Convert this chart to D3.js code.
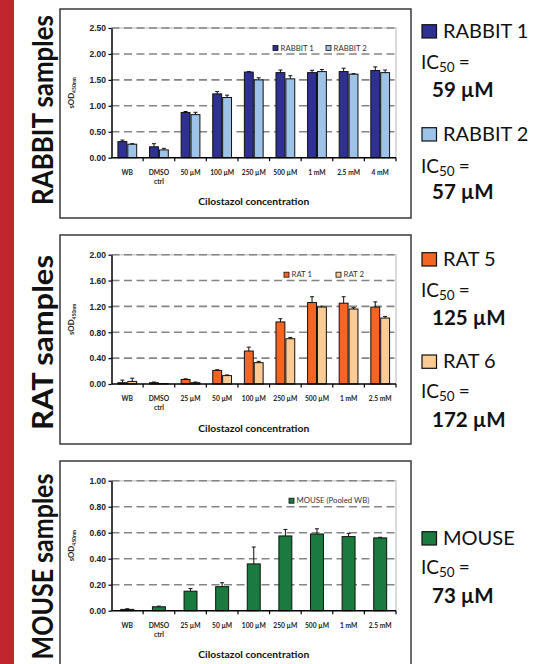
<!DOCTYPE html>
<html><head><meta charset="utf-8">
<script src="https://cdn.jsdelivr.net/npm/d3@7"></script>
<style>body{margin:0;background:#fff;} svg{display:block;font-family:Lato,'Open Sans',sans-serif;}</style>
</head><body><svg id="c" width="546" height="664"></svg>
<script>
// ---------- DATA ----------
const rabbitCategories = ["WB","DMSO|ctrl","50 µM","100 µM","250 µM","500 µM","1 mM","2.5 mM","4 mM"];
const rabbitSeries = ["RABBIT 1","RABBIT 2"];
const rabbit1 = [0.31,0.21,0.87,1.23,1.65,1.64,1.64,1.66,1.68];
const rabbit1Err = [0.03,0.06,0.02,0.045,0.01,0.05,0.045,0.065,0.07];
const rabbit2 = [0.26,0.15,0.83,1.16,1.50,1.52,1.66,1.61,1.64];
const rabbit2Err = [0.01,0.03,0.045,0.045,0.04,0.06,0.04,0.01,0.05];
const rabbitTicks = [0,0.5,1.0,1.5,2.0,2.5];

const ratCategories = ["WB","DMSO|ctrl","25 µM","50 µM","100 µM","250 µM","500 µM","1 mM","2.5 mM"];
const ratSeries = ["RAT 1","RAT 2"];
const rat1 = [0.02,0.02,0.07,0.21,0.51,0.96,1.26,1.25,1.19];
const rat1Err = [0.04,0.01,0.01,0.01,0.06,0.05,0.09,0.10,0.08];
const rat2 = [0.04,0.005,0.02,0.13,0.33,0.70,1.19,1.16,1.02];
const rat2Err = [0.05,0,0.01,0.01,0.02,0.02,0.015,0.02,0.025];
const ratTicks = [0,0.4,0.8,1.2,1.6,2.0];

const mouseCategories = ["WB","DMSO|ctrl","25 µM","50 µM","100 µM","250 µM","500 µM","1 mM","2.5 mM"];
const mouseSeries = ["MOUSE (Pooled WB)"];
const mouse = [0.01,0.03,0.15,0.185,0.36,0.575,0.59,0.57,0.56];
const mouseErr = [0.005,0.005,0.02,0.03,0.13,0.05,0.04,0.025,0.005];
const mouseTicks = [0,0.2,0.4,0.6,0.8,1.0];

const sideLabels = ["RABBIT samples","RAT samples","MOUSE samples"];
const icNames = ["RABBIT 1","RABBIT 2","RAT 5","RAT 6","MOUSE"];
const icValues = ["59 µM","57 µM","125 µM","172 µM","73 µM"];

// ---------- STYLE / LAYOUT ----------
const C = {
  rabbit:["#2e3192","#9dc3e8"],
  rat:["#f26522","#fbcb95"],
  mouse:["#1b7a3e"]
};
const svg = d3.select("#c");

svg.append("rect").attr("x",0).attr("y",0).attr("width",14).attr("height",664).attr("fill","#c1262d");

const panels = [
  {cats:rabbitCategories, series:rabbitSeries, vals:[rabbit1,rabbit2], errs:[rabbit1Err,rabbit2Err], ticks:rabbitTicks, colors:C.rabbit, zero:157.7, top:28, box:[9,218], legX:[273,326], label:sideLabels[0], labelY:110, labelLen:190},
  {cats:ratCategories, series:ratSeries, vals:[rat1,rat2], errs:[rat1Err,rat2Err], ticks:ratTicks, colors:C.rat, zero:384, top:254.7, box:[235,444], legX:[284,336], label:sideLabels[1], labelY:342.5, labelLen:175},
  {cats:mouseCategories, series:mouseSeries, vals:[mouse], errs:[mouseErr], ticks:mouseTicks, colors:C.mouse, zero:610.7, top:480.7, box:[461,672], legX:[289], label:sideLabels[2], labelY:566.5, labelLen:186}
];

const X0 = 111.5, X1 = 396;

panels.forEach(p => {
  const g = svg.append("g");
  g.append("rect").attr("x",60).attr("y",p.box[0]).attr("width",351).attr("height",p.box[1]-p.box[0])
    .attr("fill","#fff").attr("stroke","#3a3a3a").attr("stroke-width",1.5);

  // side label (scaled along its length to match the reference width)
  const sl = svg.append("text").attr("text-anchor","middle").attr("font-size",29).attr("font-weight",700)
    .attr("fill","#111").text(p.label);
  const natural = sl.node().getComputedTextLength() || p.labelLen;
  sl.attr("transform",`translate(53,${p.labelY}) rotate(-90) scale(${p.labelLen/natural},1)`);

  const ymax = p.ticks[p.ticks.length-1];
  const y = d3.scaleLinear().domain([0,ymax]).range([p.zero,p.top]);
  const x = d3.scaleBand().domain(p.cats).range([X0,X1]).padding(0);
  const n = p.series.length;
  const xs = d3.scaleBand().domain(p.series).range([0,x.bandwidth()])
    .paddingInner(n>1?0.1:0).paddingOuter(n>1?0.65:0.72);

  // plot border (light)
  g.append("path").attr("d",`M${X0},${p.top}H${X1}V${p.zero}`).attr("fill","none").attr("stroke","#cfcfcf").attr("stroke-width",1.5);
  // gridlines
  g.selectAll(".grid").data(p.ticks.filter(t=>t>0)).join("line")
    .attr("x1",X0).attr("x2",X1).attr("y1",d=>y(d)).attr("y2",d=>y(d))
    .attr("stroke","#858585").attr("stroke-width",1.6).attr("stroke-dasharray","8,4.5");

  // bars
  p.series.forEach((s,si) => {
    const data = p.cats.map((c,i)=>({c, v:p.vals[si][i], e:p.errs[si][i]}));
    const bg = g.append("g");
    bg.selectAll("rect").data(data).join("rect")
      .attr("x",d=>x(d.c)+xs(s)).attr("width",xs.bandwidth())
      .attr("y",d=>y(d.v)).attr("height",d=>Math.max(0,p.zero-y(d.v)))
      .attr("fill",p.colors[si]).attr("stroke","#111").attr("stroke-width",1);
    const cx = d=>x(d.c)+xs(s)+xs.bandwidth()/2;
    bg.selectAll(".eb").data(data.filter(d=>d.e>0)).join("path")
      .attr("d",d=>`M${cx(d)},${y(d.v)}V${y(d.v+d.e)}M${cx(d)-2},${y(d.v+d.e)}H${cx(d)+2}`)
      .attr("stroke","#111").attr("stroke-width",1).attr("fill","none");
  });

  // y axis
  const ya = g.append("g").attr("transform",`translate(${X0},0)`)
    .call(d3.axisLeft(y).tickValues(p.ticks).tickFormat(d3.format(".2f")).tickSize(3).tickSizeOuter(0));
  ya.select(".domain").attr("stroke","#000").attr("stroke-width",1.5);
  ya.selectAll(".tick line").attr("stroke","#000").attr("stroke-width",1.2);
  ya.selectAll("text").attr("font-size",8.5).attr("font-weight",700).attr("fill","#222").attr("x",-5.5);

  // x axis
  g.append("line").attr("x1",X0).attr("x2",X1).attr("y1",p.zero).attr("y2",p.zero).attr("stroke","#000").attr("stroke-width",1.5);
  g.selectAll(".xt").data(p.cats).join("line")
    .attr("x1",d=>x(d)+x.bandwidth()).attr("x2",d=>x(d)+x.bandwidth())
    .attr("y1",p.zero).attr("y2",p.zero+3.5).attr("stroke","#000").attr("stroke-width",1.2);
  g.selectAll(".xl").data(p.cats).join("text")
    .attr("x",d=>x(d)+x.bandwidth()/2).attr("y",p.zero+17.3)
    .attr("text-anchor","middle").attr("font-size",6.7).attr("font-weight",700).attr("fill","#222")
    .each(function(d){
      const parts = d.split("|");
      d3.select(this).selectAll("tspan").data(parts).join("tspan")
        .attr("x",x(d)+x.bandwidth()/2).attr("dy",(t,i)=>i?9:0).text(t=>t);
    });
  g.append("text").attr("x",(X0+X1)/2).attr("y",p.zero+47.5).attr("text-anchor","middle")
    .attr("font-size",10.3).attr("font-weight",700).attr("fill","#111").text("Cilostazol concentration");

  // y title
  const yt = g.append("text").attr("transform",`translate(74,${(p.top+p.zero)/2}) rotate(-90)`)
    .attr("text-anchor","middle").attr("font-size",7.8).attr("font-weight",700).attr("fill","#222");
  yt.append("tspan").text("sOD");
  yt.append("tspan").attr("font-size",5).attr("dy",1.5).text("450nm");

  // in-plot legend
  p.series.forEach((s,si)=>{
    const lx = p.legX[si], ly = p.top+20;
    g.append("rect").attr("x",lx).attr("y",ly-2.5).attr("width",5).attr("height",5)
      .attr("fill",p.colors[si]).attr("stroke","#111").attr("stroke-width",0.8);
    g.append("text").attr("x",lx+7.5).attr("y",ly+2.6).attr("font-size",7.8).attr("fill","#333").text(s);
  });
});

// ---------- right-side IC50 legends ----------
const icColors = [C.rabbit[0],C.rabbit[1],C.rat[0],C.rat[1],C.mouse[0]];
const icBase = [38,141,266,368.3,545];
const icGap = [31,31.5,31,30,29];
const valGap = [59,58,59,58.5,58];
icNames.forEach((nm,i)=>{
  const b = icBase[i];
  svg.append("rect").attr("x",422).attr("y",b-13.3).attr("width",14.5).attr("height",13.3)
    .attr("fill",icColors[i]).attr("stroke","#111").attr("stroke-width",1.2);
  svg.append("text").attr("x",443).attr("y",b).attr("font-size",20).attr("fill","#111").text(nm);
  const t = svg.append("text").attr("x",421).attr("y",b+icGap[i]).attr("font-size",19).attr("fill","#111");
  t.append("tspan").text("IC");
  t.append("tspan").attr("font-size",13.5).attr("dy",3).text("50");
  t.append("tspan").attr("dy",-3).attr("dx",4).text("=");
  svg.append("text").attr("x",432).attr("y",b+valGap[i]).attr("font-size",20.5).attr("font-weight",700).attr("fill","#111").text(icValues[i]);
});
</script></body></html>
